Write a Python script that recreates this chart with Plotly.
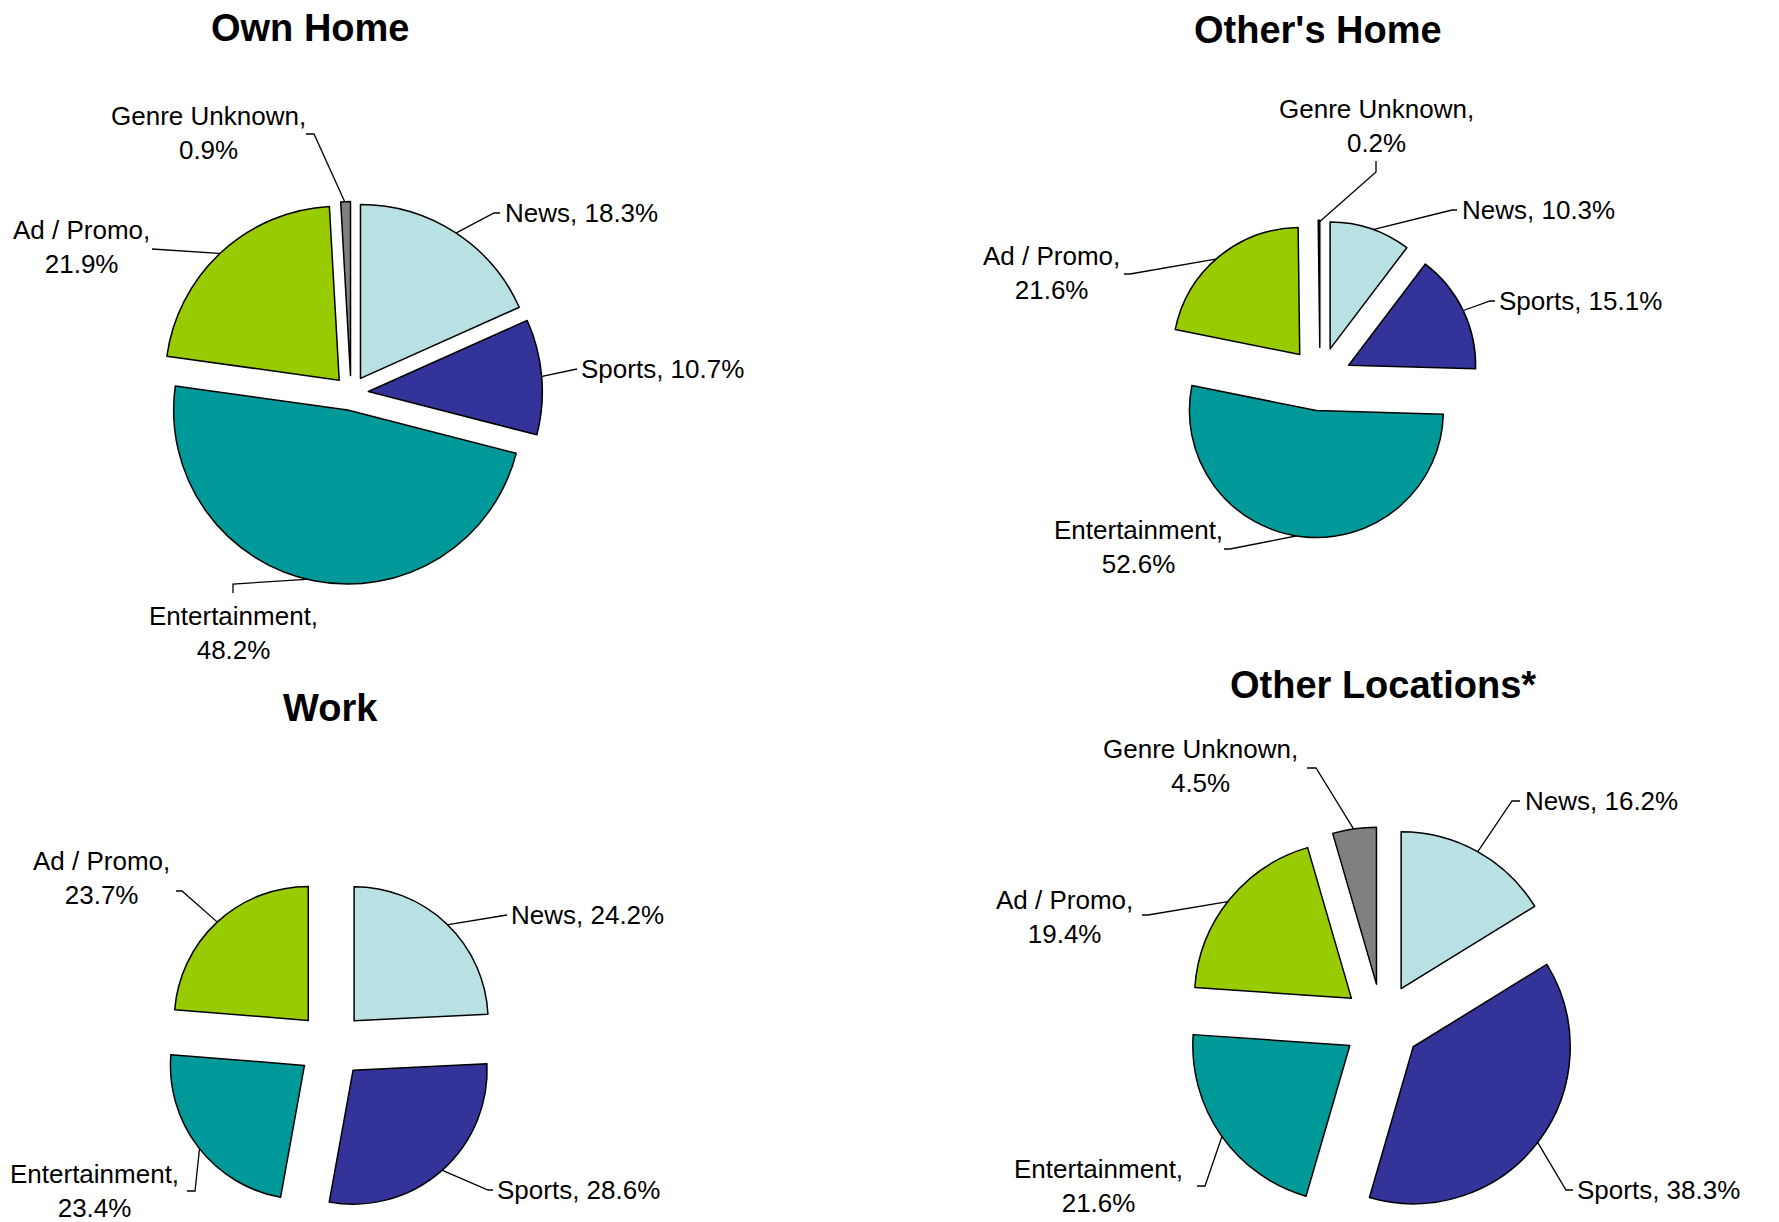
import math
import plotly.graph_objects as go

W, H = 1779, 1222
OFF = 8                     # page body margin of the browser
FW, FH = W - OFF, H - OFF   # figure size so that figure px = page px - OFF

# ---------------- data ----------------
categories = ["News", "Sports", "Entertainment", "Ad / Promo", "Genre Unknown"]
colors = ["#B9E0E3", "#333399", "#009999", "#99CC00", "#808080"]

own_home = [18.3, 10.7, 48.2, 21.9, 0.9]
others_home = [10.3, 15.1, 52.6, 21.6, 0.2]
work = [24.2, 28.6, 23.4, 23.7]
other_locations = [16.2, 38.3, 21.6, 19.4, 4.5]

titles = ["Own Home", "Other's Home", "Work", "Other Locations*"]
series = [own_home, others_home, work, other_locations]

# ---------------- layout (page pixel positions) ----------------
pie_geom = [
    dict(cx=351, cy=393, r=174, pull=0.10),
    dict(cx=1320, cy=379, r=127, pull=0.25),
    dict(cx=331, cy=1045, r=134, pull=0.25),
    dict(cx=1382, cy=1023, r=157, pull=0.25),
]
title_pos = [(310, 28), (1318, 30), (330, 708), (1383, 685)]

label_specs = [
    {  # Own Home
        "News": (503, 213, "left", [(494, 213), (500, 213)]),
        "Sports": (579, 369, "left", [(574, 369), (577, 369)]),
        "Entertainment": (233, 633, "center", [(233, 584), (233, 593)]),
        "Ad / Promo": (81, 247, "center", [(160, 249), (152, 249)]),
        "Genre Unknown": (208, 133, "center", [(314, 134), (306, 134)]),
    },
    {  # Other's Home
        "News": (1460, 210, "left", [(1452, 210), (1457, 210)]),
        "Sports": (1497, 301, "left", [(1490, 301), (1495, 301)]),
        "Entertainment": (1138, 547, "center", [(1230, 549), (1224, 549)]),
        "Ad / Promo": (1051, 273, "center", [(1130, 274), (1124, 274)]),
        "Genre Unknown": (1376, 126, "center", [(1376, 172), (1376, 161)]),
    },
    {  # Work
        "News": (509, 915, "left", [(503, 915), (507, 915)]),
        "Sports": (495, 1190, "left", [(488, 1190), (493, 1190)]),
        "Entertainment": (94, 1191, "center", [(195, 1191), (187, 1191)]),
        "Ad / Promo": (101, 878, "center", [(182, 891), (176, 891)]),
    },
    {  # Other Locations
        "News": (1523, 801, "left", [(1512, 801), (1520, 801)]),
        "Sports": (1575, 1190, "left", [(1566, 1190), (1573, 1190)]),
        "Entertainment": (1098, 1186, "center", [(1205, 1186), (1197, 1186)]),
        "Ad / Promo": (1064, 917, "center", [(1148, 915), (1142, 915)]),
        "Genre Unknown": (1200, 766, "center", [(1316, 768), (1307, 768)]),
    },
]

FONT = "Liberation Sans, Arial, sans-serif"
LABEL_SIZE = 26
TITLE_SIZE = 38

fig = go.Figure()
annotations = []

for i, vals in enumerate(series):
    g = pie_geom[i]
    labs = categories[: len(vals)]
    cols = colors[: len(vals)]
    hb = g["r"] * (1 + g["pull"])
    fx, fy = g["cx"] - OFF, g["cy"] - OFF
    dom_x = [(fx - hb) / FW, (fx + hb) / FW]
    dom_y = [1 - (fy + hb) / FH, 1 - (fy - hb) / FH]
    fig.add_trace(go.Pie(
        labels=labs, values=vals, sort=False, direction="clockwise", rotation=0,
        pull=[g["pull"]] * len(vals),
        marker=dict(colors=cols, line=dict(color="black", width=1.5)),
        textinfo="none", hoverinfo="label+value",
        domain=dict(x=dom_x, y=dom_y), showlegend=False,
    ))

    total = sum(vals)
    cum = 0.0
    for lab, v in zip(labs, vals):
        mid = 2 * math.pi * (cum + v / 2) / total
        cum += v
        rr = g["r"] * (1 + g["pull"]) - 2
        px = g["cx"] + rr * math.sin(mid)
        py = g["cy"] - rr * math.cos(mid)
        tx, ty, anc, elbow = label_specs[i][lab]
        xs = [px] + [p[0] for p in elbow]
        ys = [py] + [p[1] for p in elbow]
        fig.add_trace(go.Scatter(x=xs, y=ys, mode="lines",
                                 line=dict(color="black", width=1.3),
                                 hoverinfo="skip", showlegend=False))
        if anc == "left":
            text = f"{lab}, {v:.1f}%"
        else:
            text = f"{lab},<br>{v:.1f}%"
        annotations.append(dict(
            x=tx, y=ty, xref="x", yref="y", text=text, showarrow=False,
            xanchor=anc, yanchor="middle", align="center",
            font=dict(family=FONT, size=LABEL_SIZE, color="black"),
        ))

for t, (x, y) in zip(titles, title_pos):
    annotations.append(dict(
        x=x, y=y, xref="x", yref="y", text=f"<b>{t}</b>", showarrow=False,
        xanchor="center", yanchor="middle", borderpad=0,
        font=dict(family=FONT, size=TITLE_SIZE, color="black"),
    ))

fig.update_layout(
    width=FW, height=FH, autosize=False,
    margin=dict(l=0, r=0, t=0, b=0),
    paper_bgcolor="white", plot_bgcolor="rgba(0,0,0,0)",
    xaxis=dict(range=[OFF, W], visible=False, fixedrange=True),
    yaxis=dict(range=[H, OFF], visible=False, fixedrange=True),
    annotations=annotations,
    font=dict(family=FONT),
)

fig.write_html("out.html")
